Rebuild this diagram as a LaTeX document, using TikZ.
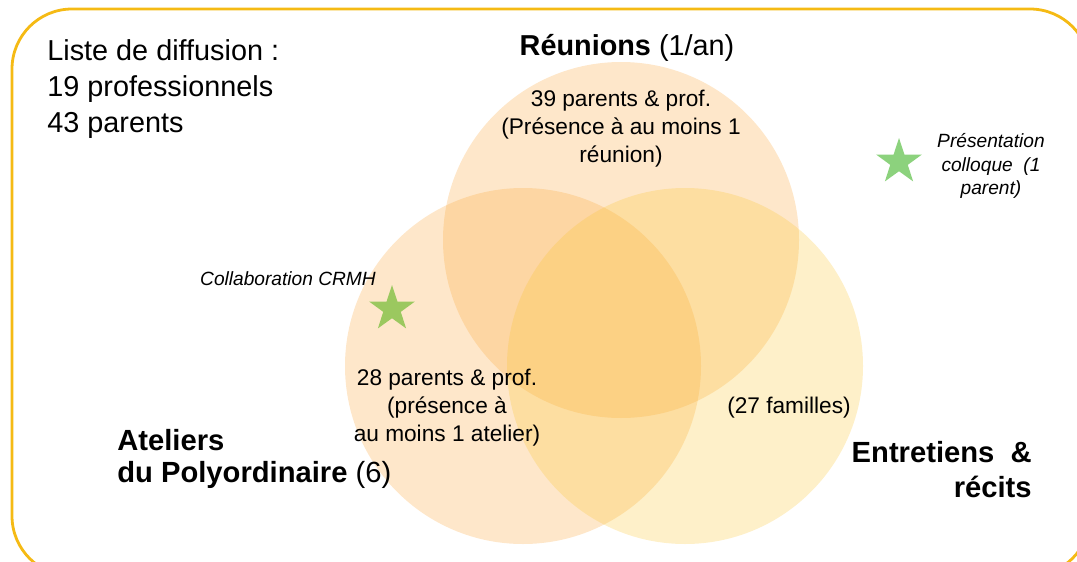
\documentclass[tikz,border=0pt]{standalone}
\usepackage{fontspec}
\setmainfont{Liberation Sans}
\usetikzlibrary{shapes.geometric}
\definecolor{frameorange}{RGB}{245,186,20}
\definecolor{peach}{RGB}{250,163,51}
\definecolor{sunny}{RGB}{250,196,45}
\definecolor{starA}{RGB}{140,210,125}
\definecolor{starB}{RGB}{155,200,95}

\begin{document}
\begin{tikzpicture}[every node/.style={inner sep=0pt},
    set/.style={circle, minimum size=7.12cm, fill opacity=0.26},
    big/.style={font=\fontsize{16.4}{20.5}\selectfont},
    head/.style={font=\fontsize{16.6}{18.4}\selectfont\bfseries},
    small/.style={font=\fontsize{12.9}{15.9}\selectfont, align=center},
    note/.style={font=\fontsize{10.9}{13.4}\selectfont\itshape, align=center},
    starmark/.style={star, star points=5, star point ratio=2.6, minimum size=0.96cm}]
      \useasboundingbox (0,0) rectangle (21.54,11.22);
      \clip (0,0) rectangle (21.54,11.22);
      \draw[frameorange, line width=1.6pt, rounded corners=1.2cm] (0.24,-0.3) rectangle (21.8,11.04);
      % the three sets
      \node[set, fill=peach] (R) at (12.42,6.42) {};
      \node[set, fill=peach] (A) at (10.46,3.90) {};
      \node[set, fill=sunny] (E) at (13.70,3.90) {};
      % titles
      \node[big, align=left, anchor=north west] (list) at (0.94,10.44)
        {Liste de diffusion :\\19 professionnels\\43 parents};
      \node[big, anchor=base] (Rt) at (12.54,10.10) {\textbf{Réunions} (1/an)};
      \node[head, align=left, anchor=north west] (At) at (2.34,2.64)
        {Ateliers\\du Polyordinaire \mdseries(6)};
      \node[head, font=\fontsize{16.6}{20}\selectfont\bfseries, align=right, anchor=north east] (Et) at (20.64,2.40)
        {Entretiens\ \ \&\\récits};
      % counts
      \node[small, anchor=north] (Rn) at (12.42,9.42)
        {39 parents \& prof.\\(Présence à au moins 1\\réunion)};
      \node[small, anchor=north] (An) at (8.94,3.84)
        {28 parents \& prof.\\(présence à\\au moins 1 atelier)};
      \node[small, anchor=base] (En) at (15.78,2.96) {(27 familles)};
      % stars
      \node[starmark, fill=starA] (S1) at (17.98,7.98) {};
      \node[note, anchor=north] (S1t) at (19.82,8.56)
        {Présentation\\colloque\ \ (1\\parent)};
      \node[starmark, fill=starB] (S2) at (7.84,5.04) {};
      \node[note, anchor=base] (S2t) at (5.76,5.52) {Collaboration CRMH};
\end{tikzpicture}
\end{document}
